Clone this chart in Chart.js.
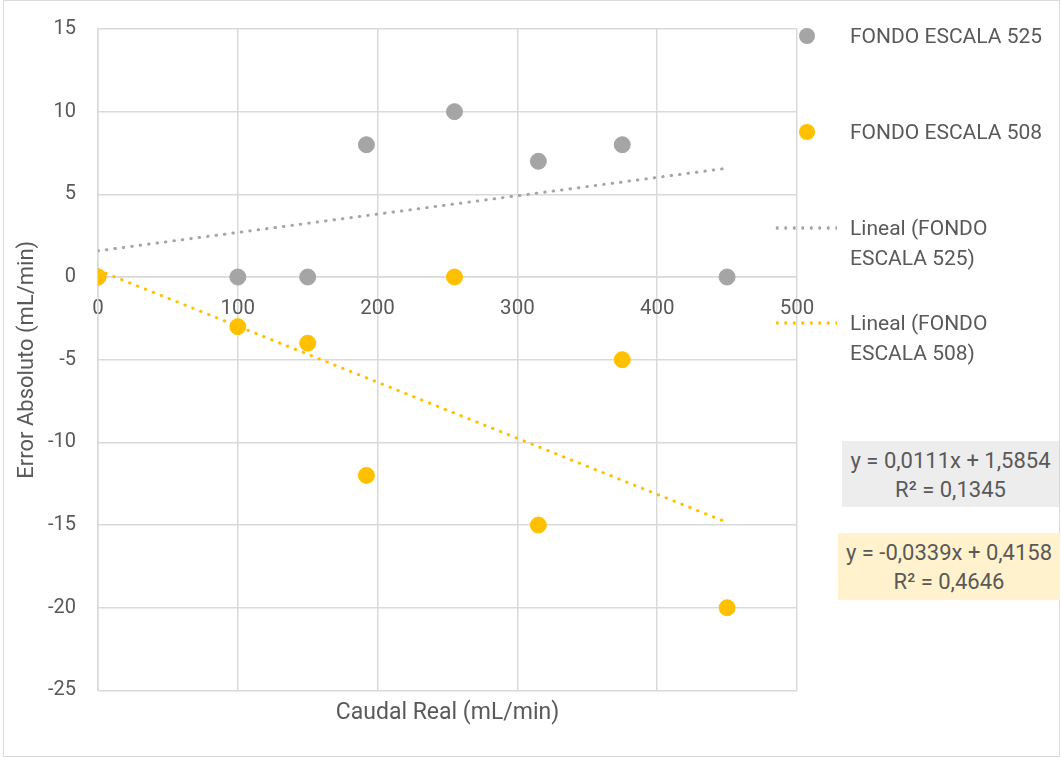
<!DOCTYPE html>
<html lang="es">
<head>
  <meta charset="UTF-8">
  <title>Error Absoluto vs Caudal Real</title>
  <script src="https://cdn.jsdelivr.net/npm/chart.js"></script>
  <style>
    body {
      margin: 0;
      background: #fff;
      font-family: Roboto, 'Open Sans', sans-serif;
      color: #595959;
    }
    .wrap {
      position: relative;
      width: 1061px;
      height: 758px;
    }
    .frame {
      position: absolute;
      left: 3px;
      top: 0;
      width: 1055px;
      height: 755px;
      border: 1px solid #d9d9d9;
      pointer-events: none;
    }
    .leg {
      position: absolute;
      font-size: 21px;
      line-height: 30px;
      white-space: nowrap;
    }
    .dot {
      position: absolute;
      width: 16px;
      height: 16px;
      border-radius: 50%;
    }
    .dash {
      position: absolute;
      width: 64px;
      height: 4px;
    }
    .eq {
      position: absolute;
      font-size: 22px;
      line-height: 29px;
      text-align: center;
      white-space: nowrap;
      box-sizing: border-box;
      padding-top: 5px;
    }
  </style>
</head>
<body>
  <div class="wrap">
    <canvas id="chart" width="1061" height="758"></canvas>
    <div class="frame"></div>
    <div id="legend"></div>
  </div>

  <script>
    // datos
    const seriesNames = ['FONDO ESCALA 525', 'FONDO ESCALA 508'];
    const caudal = [0, 100, 150, 192, 255, 315, 375, 450];
    const error525 = [0, 0, 0, 8, 10, 7, 8, 0];
    const error508 = [0, -3, -4, -12, 0, -15, -5, -20];
    const xTicks = [0, 100, 200, 300, 400, 500];
    const yTicks = [15, 10, 5, 0, -5, -10, -15, -20, -25];
    // líneas de tendencia (ecuaciones mostradas): pendiente, ordenada, R²
    const trend525 = [0.0111, 1.5854, 0.1345];
    const trend508 = [-0.0339, 0.4158, 0.4646];

    const GRAY = '#a5a5a5';
    const ORANGE = '#ffc000';
    const TEXT = '#595959';
    const GRID = '#d9d9d9';

    Chart.defaults.font.family = 'Roboto, "Open Sans", sans-serif';
    Chart.defaults.font.size = 20;
    Chart.defaults.color = TEXT;

    const xMin = Math.min(...caudal), xMax = Math.max(...caudal);
    const trendPoints = (t) => [
      { x: xMin, y: t[0] * xMin + t[1] },
      { x: xMax, y: t[0] * xMax + t[1] }
    ];

    const ctx = document.getElementById('chart').getContext('2d');

    new Chart(ctx, {
      type: 'scatter',
      data: {
        datasets: [
          {
            label: 'Lineal (' + seriesNames[1] + ')',
            data: trendPoints(trend508),
            showLine: true,
            borderColor: ORANGE,
            borderWidth: 3,
            borderDash: [0.5, 8],
            borderCapStyle: 'round',
            pointRadius: 0,
            order: 0
          },
          {
            label: 'Lineal (' + seriesNames[0] + ')',
            data: trendPoints(trend525),
            showLine: true,
            borderColor: GRAY,
            borderWidth: 3,
            borderDash: [0.5, 8],
            borderCapStyle: 'round',
            pointRadius: 0,
            order: 1
          },
          {
            label: seriesNames[1],
            data: caudal.map((x, i) => ({ x: x, y: error508[i] })),
            backgroundColor: ORANGE,
            borderColor: ORANGE,
            pointRadius: 8,
            pointHoverRadius: 8,
            order: 2
          },
          {
            label: seriesNames[0],
            data: caudal.map((x, i) => ({ x: x, y: error525[i] })),
            backgroundColor: GRAY,
            borderColor: GRAY,
            pointRadius: 8,
            pointHoverRadius: 8,
            order: 3
          }
        ]
      },
      options: {
        responsive: false,
        animation: false,
        layout: { padding: { top: 29, right: 264, bottom: 31, left: 0 } },
        plugins: {
          legend: { display: false },
          tooltip: { enabled: true }
        },
        scales: {
          x: {
            type: 'linear',
            position: { y: 0 },
            min: xTicks[0],
            max: xTicks[xTicks.length - 1],
            afterBuildTicks: (s) => { s.ticks = xTicks.map(v => ({ value: v })); },
            ticks: { padding: 20, maxRotation: 0, font: { size: 20.5 } },
            grid: { color: GRID, lineWidth: 1.5, drawTicks: false },
            border: { color: GRID, width: 1.5 }
          },
          xTitle: {
            type: 'linear',
            axis: 'x',
            position: 'bottom',
            min: 0,
            max: 500,
            ticks: { display: false },
            grid: { display: false, drawTicks: false },
            border: { display: false },
            title: {
              display: true,
              text: 'Caudal Real (mL/min)',
              color: TEXT,
              font: { size: 23 },
              padding: { top: 9, bottom: 0 }
            }
          },
          y: {
            type: 'linear',
            min: yTicks[yTicks.length - 1],
            max: yTicks[0],
            afterBuildTicks: (s) => { s.ticks = yTicks.map(v => ({ value: v })); },
            afterFit: (s) => {
              s.width = 98;
              s.paddingTop = 0;
              s.paddingBottom = 0;
            },
            ticks: { padding: 22, font: { size: 20 } },
            grid: { color: GRID, lineWidth: 1.5, drawTicks: false },
            border: { color: GRID, width: 1.5 },
            title: {
              display: true,
              text: 'Error Absoluto (mL/min)',
              color: TEXT,
              font: { size: 22 },
              padding: { top: 14, bottom: 0 }
            }
          }
        }
      }
    });

    // leyenda y etiquetas de ecuación en HTML
    const fmt = (v) => v.toFixed(4).replace('.', ',');
    const eqText = (t) =>
      'y = ' + fmt(t[0]) + 'x + ' + fmt(t[1]) + '<br>R² = ' + fmt(t[2]);
    const dottedBg = (c) =>
      'radial-gradient(circle, ' + c + ' 1.5px, transparent 1.9px) 0 0 / 8.5px 4px repeat-x';

    document.getElementById('legend').innerHTML =
      '<div class="dot" style="left:799px;top:28px;background:' + GRAY + '"></div>' +
      '<div class="leg" style="left:850px;top:21px">' + seriesNames[0] + '</div>' +
      '<div class="dot" style="left:799px;top:124px;background:' + ORANGE + '"></div>' +
      '<div class="leg" style="left:850px;top:117px">' + seriesNames[1] + '</div>' +
      '<div class="dash" style="left:773px;top:226px;background:' + dottedBg(GRAY) + '"></div>' +
      '<div class="leg" style="left:850px;top:213px">Lineal (FONDO<br>ESCALA 525)</div>' +
      '<div class="dash" style="left:773px;top:321px;background:' + dottedBg(ORANGE) + '"></div>' +
      '<div class="leg" style="left:850px;top:308px">Lineal (FONDO<br>ESCALA 508)</div>' +
      '<div class="eq" style="left:842px;top:441px;width:217px;height:66px;background:#ededed">' +
        eqText(trend525) + '</div>' +
      '<div class="eq" style="left:838px;top:533px;width:222px;height:67px;background:#fff2cc">' +
        eqText(trend508) + '</div>';
  </script>
</body>
</html>
